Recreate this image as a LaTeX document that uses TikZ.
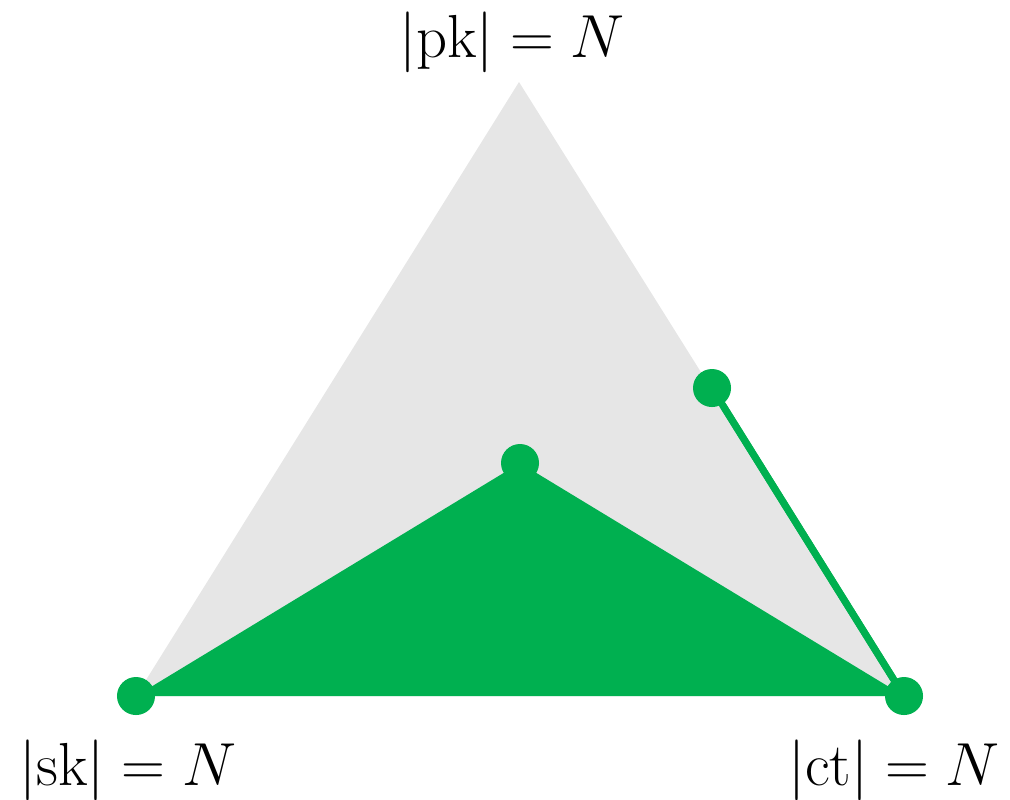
\documentclass[tikz,border=0pt]{standalone}
\begin{document}
\begin{tikzpicture}[x=0.01cm,y=-0.01cm]
\definecolor{officegreen}{HTML}{00B050}
\definecolor{lightgray}{HTML}{E6E6E6}
\tikzset{
  dot/.style={circle,fill=officegreen,inner sep=0pt,minimum size=0.38cm},
  lbl/.style={inner sep=0pt,anchor=base,font=\fontsize{17.5}{20}\selectfont}
}
\useasboundingbox (0,0) rectangle (1010,799);
\coordinate (T) at (519,82);
\coordinate (L) at (136,696);
\coordinate (R) at (904,696);
\fill[lightgray] (T) -- (L) -- (R) -- cycle;
\fill[officegreen] (L) -- (520,463) -- (R) -- cycle;
\draw[officegreen,line width=0.07cm] (712,388) -- (R);
\node[dot] (dl) at (L) {};
\node[dot] (dr) at (R) {};
\node[dot] (dm) at (520,463) {};
\node[dot] (de) at (712,388) {};
\draw[officegreen,line width=0.07cm] (de) -- (dr);
\node[lbl] (pk) at (512,57) {$|\mathrm{pk}| = N$};
\node[lbl] (sk) at (128,785) {$|\mathrm{sk}| = N$};
\node[lbl] (ct) at (894,785) {$|\mathrm{ct}| = N$};
\end{tikzpicture}
\end{document}
